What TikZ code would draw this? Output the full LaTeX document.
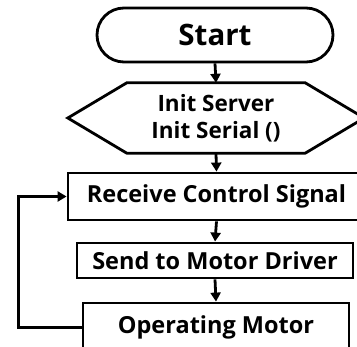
\documentclass[tikz,border=0pt]{standalone}
\usepackage{fontspec}
\setmainfont{Open Sans}
\usetikzlibrary{arrows.meta,calc}
\begin{document}
\begin{tikzpicture}[x=1pt,y=-1pt,
  box/.style={draw=black,line width=2.8pt,fill=white,inner sep=0pt,font=\bfseries\fontsize{23.5}{26}\selectfont,align=center},
  arr/.style={line width=2.8pt,-{Triangle[length=9pt,width=10pt]}}]
\useasboundingbox (0,0) rectangle (357,347);
\clip (0,0) rectangle (357,347);
\fill[white] (0,0) rectangle (357,347);
% Start terminal
\node[box,rounded corners=27pt,minimum width=236pt,minimum height=54pt,font=\bfseries\fontsize{29.5}{32}\selectfont] (start) at (215,35) {Start};
% Init hexagon (inner rectangle node, outline drawn around it)
\node[inner sep=0pt,minimum width=178pt,minimum height=70pt,align=center,font=\bfseries\fontsize{22.5}{27}\selectfont] (init) at (216,118) {Init Server\\Init Serial ()};
\draw[line width=2.8pt,line join=miter] (init.north west) -- (init.north east) -- ($(init.east)+(59,0)$) -- (init.south east) -- (init.south west) -- ($(init.west)+(-59,0)$) -- cycle;
% Process boxes
\node[box,minimum width=297pt,minimum height=47pt] (recv) at (216.5,196.5) {Receive Control Signal};
\node[box,minimum width=276pt,minimum height=35pt] (send) at (215,260.5) {Send to Motor Driver};
\node[box,minimum width=266pt,minimum height=49pt] (op) at (216,327.5) {Operating Motor};
% Connectors
\draw[arr] (start.south) -- (init.north);
\draw[arr] (init.south) -- (recv.north);
\draw[arr] (recv.south) -- (send.north);
\draw[arr] (send.south) -- (op.north);
\draw[arr,line join=miter] (op.west) -- ++(-63,0) |- (recv.west);
\end{tikzpicture}
\end{document}
